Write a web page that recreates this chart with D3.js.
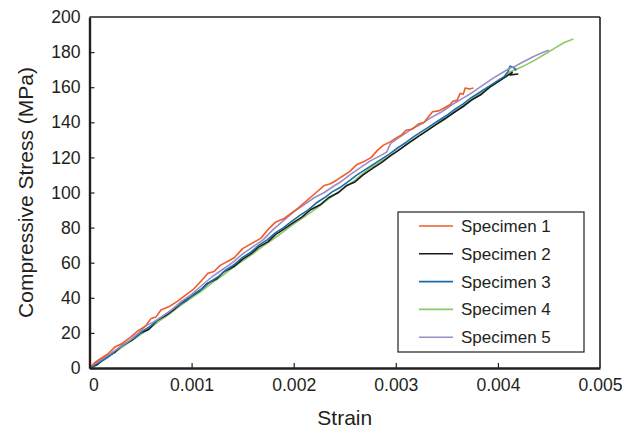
<!DOCTYPE html>
<html>
<head>
<meta charset="utf-8">
<script src="https://d3js.org/d3.v7.min.js"></script>
<style>
  body { margin: 0; background: #fff; }
  svg text { font-family: "Liberation Sans", Arial, sans-serif; fill: #231f20; }
</style>
</head>
<body>
<svg width="641" height="429"></svg>
<script>
// strain in units of 1e-3, stress in MPa
var names = ["Specimen 1", "Specimen 2", "Specimen 3", "Specimen 4", "Specimen 5"];
var colors = ["#f15a29", "#1a1a1a", "#1b6ca8", "#8dc964", "#9b8dc6"];
var xTicks = [0, 0.001, 0.002, 0.003, 0.004, 0.005];
var yTicks = [0, 20, 40, 60, 80, 100, 120, 140, 160, 180, 200];

var spec1 = [[0,0],[0.05,3],[0.1,5],[0.18,8],[0.25,12],[0.32,14],[0.4,17.5],[0.47,21],[0.55,24],[0.6,28],
  [0.65,29],[0.7,33],[0.78,35],[0.86,38],[0.95,42],[1.02,45],[1.1,50],[1.16,54],[1.22,55],[1.28,58.5],
  [1.36,61],[1.42,63],[1.5,68],[1.56,70],[1.62,72],[1.68,74],[1.75,79],[1.82,83],[1.9,85],[1.97,88],
  [2.04,91],[2.1,94],[2.18,98],[2.24,101],[2.3,104],[2.36,105],[2.42,107],[2.47,109],[2.55,112],[2.62,116],
  [2.7,118],[2.76,120],[2.82,124],[2.88,127],[2.95,129],[3.0,131],[3.06,133],[3.1,135.5],[3.16,136],[3.22,139],
  [3.28,140],[3.31,142.5],[3.36,146],[3.42,146.5],[3.47,148],[3.53,150],[3.56,152],[3.6,152.5],[3.63,156.5],
  [3.66,156],[3.68,159.5],[3.72,159],[3.76,159.5]];
var spec2 = [[0,0],[0.08,2],[0.15,6],[0.25,9],[0.32,13],[0.42,16],[0.5,20],[0.58,22],[0.66,27],[0.75,30],
  [0.82,33],[0.9,37],[1.0,41],[1.08,44],[1.15,48],[1.25,51],[1.32,55],[1.42,58],[1.5,62],[1.58,65],
  [1.66,69],[1.75,72],[1.82,76],[1.9,79],[2.0,83],[2.08,86],[2.16,90],[2.26,93],[2.34,97],[2.44,100],
  [2.52,104],[2.6,106],[2.68,110],[2.78,114],[2.86,117],[2.95,121],[3.05,125],[3.12,128],[3.22,132],[3.3,135],
  [3.4,139],[3.48,142],[3.58,146],[3.66,149],[3.75,153],[3.84,156],[3.92,160],[4.0,163],[4.08,166],[4.14,168.5],
  [4.12,167],[4.2,167.5]];
var spec3 = [[0,0],[0.06,2],[0.12,4],[0.2,7],[0.28,11],[0.36,14],[0.44,17],[0.52,21],[0.6,24],[0.68,28],
  [0.76,31],[0.85,35],[0.94,38],[1.02,42],[1.1,45],[1.18,49],[1.26,52],[1.34,56],[1.42,59],[1.5,63],
  [1.58,66],[1.66,70],[1.74,73],[1.82,77],[1.9,80],[1.98,83.5],[2.06,87],[2.14,90],[2.22,94],[2.3,97],
  [2.38,100.5],[2.46,103],[2.54,106.5],[2.62,110],[2.7,113],[2.78,116],[2.86,119],[2.94,122],[3.02,125.5],
  [3.1,128.5],[3.18,132],[3.26,135],[3.34,138],[3.42,141],[3.5,144],[3.58,147.5],[3.66,150.5],[3.74,154],
  [3.82,157],[3.9,160],[3.98,163],[4.06,166],[4.1,169],[4.12,172],[4.16,171],[4.18,169.5]];
var spec4 = [[0,0],[0.1,3],[0.2,7],[0.3,11],[0.4,15],[0.5,19],[0.6,23],[0.7,27.5],[0.8,31.5],[0.9,36],
  [1.0,40],[1.1,44],[1.2,48.5],[1.3,52.5],[1.4,57],[1.5,61],[1.6,65],[1.7,69.5],[1.8,73.5],[1.92,78.6],
  [2.0,82],[2.1,86],[2.2,90],[2.3,94.5],[2.46,101.4],[2.6,107],[2.72,112.8],[2.85,117.5],[3.0,123],[3.1,127],
  [3.2,131],[3.34,136.8],[3.47,141.3],[3.6,147],[3.7,151],[3.8,155],[3.9,159],[4.0,163],[4.12,168.8],
  [4.25,172],[4.35,175],[4.45,178.5],[4.55,182],[4.65,185.5],[4.74,187.5]];
var spec5 = [[0,0],[0.05,2.5],[0.12,5],[0.2,8],[0.3,12],[0.4,16],[0.5,21],[0.55,24],[0.62,26],[0.7,29],
  [0.8,33],[0.9,38],[1.0,42],[1.1,47],[1.2,52],[1.3,56],[1.4,60],[1.5,65],[1.6,69],[1.7,73],
  [1.8,79],[1.9,84],[2.0,89],[2.1,93],[2.2,97],[2.3,100],[2.4,104],[2.46,106],[2.55,110],[2.65,114],
  [2.75,118],[2.85,121],[2.91,123],[2.95,128],[3.05,132],[3.15,136],[3.25,139],[3.34,142.5],[3.45,146],
  [3.55,150],[3.65,153.5],[3.75,157],[3.85,161],[3.95,165],[4.05,168.5],[4.12,171],[4.17,172],[4.25,174.5],
  [4.35,177.5],[4.45,180],[4.5,181]];

// draw order: green under, red on top
var series = [spec1, spec2, spec3, spec4, spec5];
var drawOrder = [3, 1, 2, 4, 0];

var svg = d3.select("svg"),
    margin = {left: 89.5, top: 17, right: 41, bottom: 61},
    width = 641 - margin.left - margin.right,
    height = 429 - margin.top - margin.bottom;

var x = d3.scaleLinear().domain([0, 0.005]).range([0, width]);
var y = d3.scaleLinear().domain([0, 200]).range([height, 0]);

var g = svg.append("g").attr("transform", "translate(" + margin.left + "," + margin.top + ")");

var line = d3.line()
    .x(function(d){ return x(d[0] / 1000); })
    .y(function(d){ return y(d[1]); });

drawOrder.forEach(function(i){
  g.append("path")
    .datum(series[i])
    .attr("fill", "none")
    .attr("stroke", colors[i])
    .attr("stroke-width", 1.6)
    .attr("stroke-linejoin", "round")
    .attr("d", line);
});

// frame
g.append("line").attr("x1", 0).attr("x2", width).attr("y1", 0).attr("y2", 0)
  .attr("stroke", "#231f20").attr("stroke-width", 1.3);
g.append("line").attr("x1", width).attr("x2", width).attr("y1", 0).attr("y2", height)
  .attr("stroke", "#231f20").attr("stroke-width", 1.6);

var xAxis = g.append("g")
    .attr("transform", "translate(0," + height + ")")
    .call(d3.axisBottom(x).tickValues(xTicks).tickSizeInner(-5).tickSizeOuter(0)
      .tickFormat(function(d){ return d === 0 ? "0" : d3.format(".3f")(d); }));
var yAxis = g.append("g")
    .call(d3.axisLeft(y).tickValues(yTicks).tickSizeInner(-5).tickSizeOuter(0));

[xAxis, yAxis].forEach(function(a){
  a.select(".domain").attr("stroke", "#231f20").attr("stroke-width", 2.4);
  a.selectAll(".tick line").attr("stroke", "#231f20").attr("stroke-width", 1.2);
  a.selectAll(".tick text").style("font-size", "17.6px").attr("fill", "#231f20");
});
xAxis.selectAll(".tick text").attr("y", 11);
xAxis.selectAll(".tick").filter(function(d){ return d === 0; }).select("text").attr("dx", 4);
xAxis.selectAll(".tick").filter(function(d){ return d === 0.005; }).select("line").remove();
yAxis.selectAll(".tick").filter(function(d){ return d === 200; }).select("line").remove();
yAxis.selectAll(".tick text").attr("x", -9);

// axis titles
svg.append("text")
  .attr("x", margin.left + width / 2)
  .attr("y", 425)
  .attr("text-anchor", "middle")
  .style("font-size", "21px")
  .text("Strain");
svg.append("text")
  .attr("transform", "translate(33," + (margin.top + height / 2) + ") rotate(-90)")
  .attr("text-anchor", "middle")
  .style("font-size", "21px")
  .text("Compressive Stress (MPa)");

// legend
var legend = svg.append("g").attr("transform", "translate(398,212)");
legend.append("rect")
  .attr("width", 186).attr("height", 140)
  .attr("fill", "#fff").attr("stroke", "#231f20").attr("stroke-width", 1.2);
names.forEach(function(n, i){
  var row = legend.append("g").attr("transform", "translate(0," + (14 + i * 27.8) + ")");
  row.append("line").attr("x1", 21).attr("x2", 55)
    .attr("stroke", colors[i]).attr("stroke-width", 1.6);
  row.append("text").attr("x", 63).attr("dy", "0.35em")
    .style("font-size", "17px").text(n);
});
</script>
</body>
</html>
